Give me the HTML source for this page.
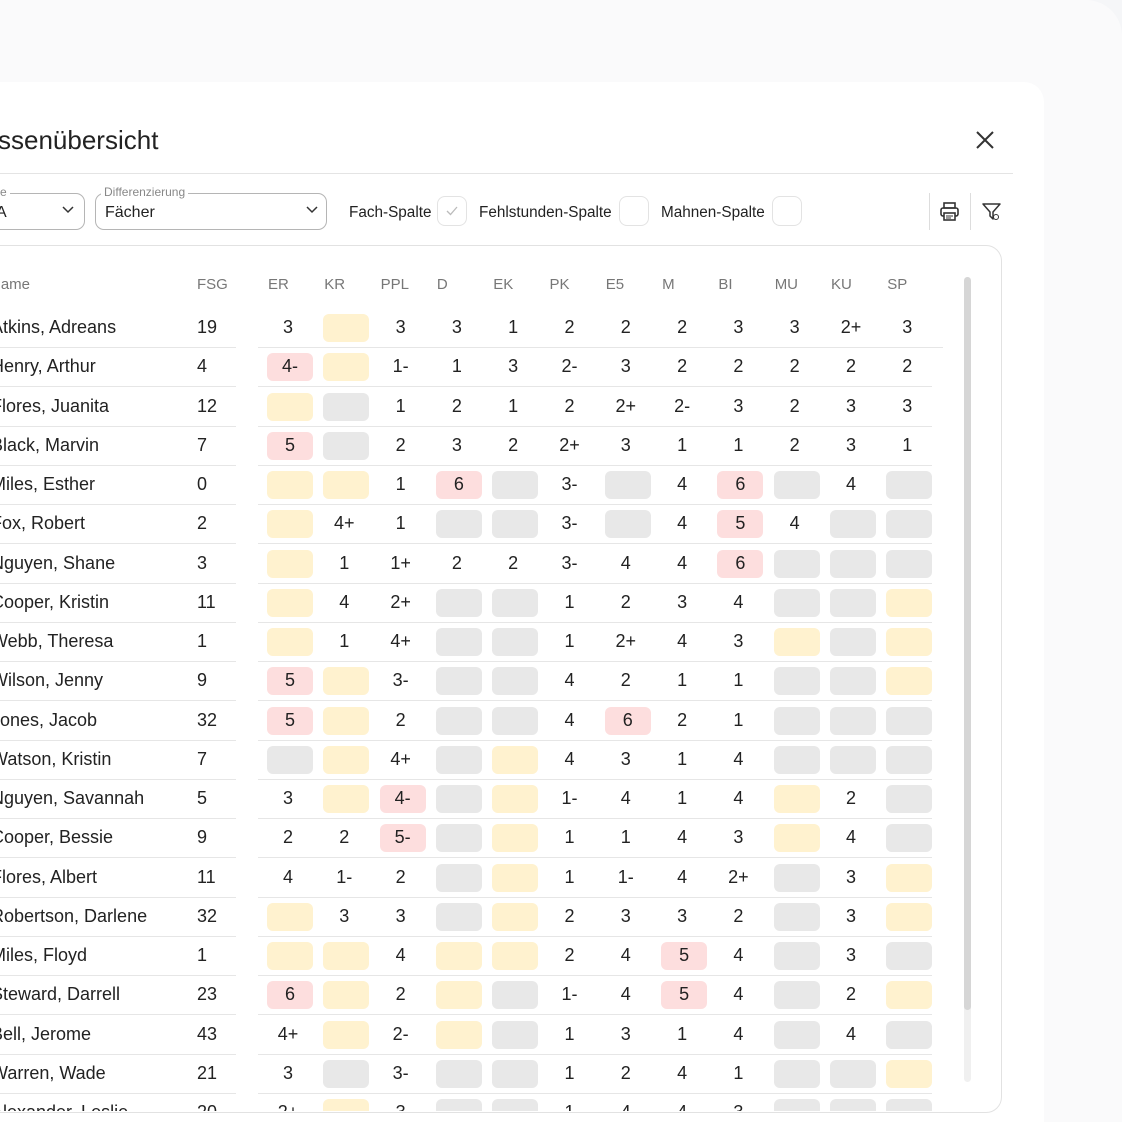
<!DOCTYPE html>
<html style="overflow:hidden;height:1122px"><head><meta charset="utf-8">
<style>
body{margin:0;width:1122px;height:1122px;overflow:hidden;background:#f5f6f8;font-family:"Liberation Sans",sans-serif;position:relative}
.abs{position:absolute}
#dialog{left:0;top:82px;width:1044px;height:1040px;background:#fff;border-radius:0 20px 0 0;overflow:hidden}
#outer{left:0;top:0;width:1122px;height:1122px;background:#fafafb;border-radius:0 36px 0 0}
.t{position:absolute;white-space:nowrap}
.cb{position:absolute;width:28px;height:28px;border:1px solid #e3e3e3;border-radius:8px;top:196px}
.sel{position:absolute;top:193px;height:35px;border:1.5px solid #b5b5b5;border-radius:9px}
.cell{position:absolute;width:46px;height:28px;border-radius:6px}
.tb{font-size:15.3px;color:#222;top:204px}
</style></head><body>
<div class="abs" id="outer"></div>
<div class="abs" id="dialog"></div>
<div class="t" style="left:-2px;top:125px;font-size:26px;color:#222">ssenübersicht</div>
<svg class="abs" style="left:975px;top:130px" width="20" height="20"><path d="M2 2L18 18M18 2L2 18" stroke="#333" stroke-width="2"/></svg>
<div class="abs" style="left:0;top:173px;width:1013px;height:1px;background:#e4e4e4"></div>
<div class="sel" style="left:-20px;width:103px"></div>
<div class="t" style="left:0;top:185px;font-size:12px;color:#888;background:#fff;padding-right:3px">e</div>
<div class="t" style="left:-4px;top:204px;font-size:16px;color:#222">A</div>
<svg class="abs" style="left:62px;top:206px" width="12" height="8"><path d="M1 1L6 6L11 1" stroke="#333" stroke-width="1.5" fill="none"/></svg>
<div class="sel" style="left:95px;width:230px"></div>
<div class="t" style="left:101px;top:185px;font-size:12px;color:#888;background:#fff;padding:0 3px">Differenzierung</div>
<div class="t" style="left:105px;top:204px;font-size:16px;color:#222">Fächer</div>
<svg class="abs" style="left:306px;top:206px" width="12" height="8"><path d="M1 1L6 6L11 1" stroke="#333" stroke-width="1.5" fill="none"/></svg>
<div class="t tb" style="left:349px">Fach-Spalte</div>
<div class="cb" style="left:437px"><svg width="28" height="28"><path d="M9 14L12.5 17.5L19 10" stroke="#bbb" stroke-width="1.3" fill="none"/></svg></div>
<div class="t tb" style="left:479px">Fehlstunden-Spalte</div>
<div class="cb" style="left:619px"></div>
<div class="t tb" style="left:661px">Mahnen-Spalte</div>
<div class="cb" style="left:772px"></div>
<div class="abs" style="left:929px;top:193px;width:1px;height:37px;background:#ddd"></div>
<div class="abs" style="left:970px;top:193px;width:1px;height:37px;background:#ddd"></div>
<svg class="abs" style="left:939px;top:201px" width="21" height="21"><rect x="5" y="2" width="11" height="5" fill="none" stroke="#333" stroke-width="1.6"/><rect x="2" y="7" width="17" height="8" rx="2" fill="none" stroke="#333" stroke-width="1.6"/><rect x="5" y="12" width="11" height="7" fill="#fff" stroke="#333" stroke-width="1.6"/><path d="M7 15H14M7 17H12" stroke="#333" stroke-width="1"/></svg>
<svg class="abs" style="left:981px;top:201px" width="21" height="21"><path d="M2 3H19L12 11V18L9 15V11Z" fill="none" stroke="#333" stroke-width="1.5" stroke-linejoin="round"/><circle cx="15" cy="16" r="2.5" fill="#fff" stroke="#333" stroke-width="1"/></svg>
<div class="abs" style="left:-20px;top:245px;width:1020px;height:866px;border:1.5px solid #e2e2e2;border-radius:16px"></div>
<div class="abs" style="left:964px;top:277px;width:7px;height:805px;background:#f0f0f0;border-radius:4px"></div>
<div class="abs" style="left:964px;top:277px;width:7px;height:733px;background:#d6d6d6;border-radius:4px"></div>
<div class="abs" id="tbl" style="left:0;top:246px;width:1000px;height:865px;overflow:hidden"></div>
<script>
const subjects=["ER","KR","PPL","D","EK","PK","E5","M","BI","MU","KU","SP"];
const names=["Atkins, Adreans","Henry, Arthur","Flores, Juanita","Black, Marvin","Miles, Esther","Fox, Robert","Nguyen, Shane","Cooper, Kristin","Webb, Theresa","Wilson, Jenny","Jones, Jacob","Watson, Kristin","Nguyen, Savannah","Cooper, Bessie","Flores, Albert","Robertson, Darlene","Miles, Floyd","Steward, Darrell","Bell, Jerome","Warren, Wade","Alexander, Leslie"];
const fsg=["19","4","12","7","0","2","3","11","1","9","32","7","5","9","11","32","1","23","43","21","20"];
const grades=[
"3 Y 3 3 1 2 2 2 3 3 2+ 3","!4- Y 1- 1 3 2- 3 2 2 2 2 2","Y G 1 2 1 2 2+ 2- 3 2 3 3","!5 G 2 3 2 2+ 3 1 1 2 3 1",
"Y Y 1 !6 G 3- G 4 !6 G 4 G","Y 4+ 1 G G 3- G 4 !5 4 G G","Y 1 1+ 2 2 3- 4 4 !6 G G G","Y 4 2+ G G 1 2 3 4 G G Y",
"Y 1 4+ G G 1 2+ 4 3 Y G Y","!5 Y 3- G G 4 2 1 1 G G Y","!5 Y 2 G G 4 !6 2 1 G G G","G Y 4+ G Y 4 3 1 4 G G G",
"3 Y !4- G Y 1- 4 1 4 Y 2 G","2 2 !5- G Y 1 1 4 3 Y 4 G","4 1- 2 G Y 1 1- 4 2+ G 3 Y","Y 3 3 G Y 2 3 3 2 G 3 Y",
"Y Y 4 Y Y 2 4 !5 4 G 3 G","!6 Y 2 Y G 1- 4 !5 4 G 2 Y","4+ Y 2- Y G 1 3 1 4 G 4 G","3 G 3- G G 1 2 4 1 G G Y",
"2+ Y 3 G G 1 4 4 3 G G G"];
const tbl=document.getElementById('tbl');
const T=246, colX=i=>288+i*56.3, rowY=r=>328+r*39.25-T;
function mk(cls,css,txt){const d=document.createElement('div');d.className=cls;d.style.cssText=css;if(txt!=null)d.textContent=txt;tbl.appendChild(d);return d;}
let h=mk('t','left:-10px;top:'+(285-T-9)+'px;font-size:15px;color:#777','Name');


h=mk('t','left:197px;top:'+(285-T-9)+'px;font-size:15px;color:#777','FSG');


subjects.forEach((s,i)=>{const e=mk('t','left:'+(colX(i)-20)+'px;top:'+(285-T-9)+'px;font-size:15px;color:#777',s);

});
names.forEach((n,r)=>{
 const y=rowY(r);
 const nm=mk('t','left:-9px;top:'+(y-11)+'px;font-size:18px;color:#222',n);
 
 
 const f=mk('t','left:197px;top:'+(y-11)+'px;font-size:18px;color:#222',fsg[r]);
 
 
 const l1=mk('abs','left:0;width:236px;height:1px;background:#e6e6e6;top:'+(y+19)+'px');
 
 
 const l2=mk('abs','left:258px;width:'+(r==0?685:674)+'px;height:1px;background:#e6e6e6;top:'+(y+19)+'px');
 
 
 grades[r].split(' ').forEach((g,i)=>{
  const x=colX(i);
  let bg=null,txt=g;
  if(g==='Y'){bg='#fff2cf';txt='';} else if(g==='G'){bg='#e8e8e8';txt='';} else if(g[0]==='!'){bg='#fddede';txt=g.slice(1);}
  if(bg){const c=mk('cell','left:'+(x-21)+'px;top:'+(y-14)+'px;background:'+bg);
   
   }
  if(txt){const t=mk('t','left:'+(x-23+(bg?2:0))+'px;width:46px;text-align:center;top:'+(y-11)+'px;font-size:18px;color:#222',txt);
   
   }
 });
});
</script>
</body></html>
